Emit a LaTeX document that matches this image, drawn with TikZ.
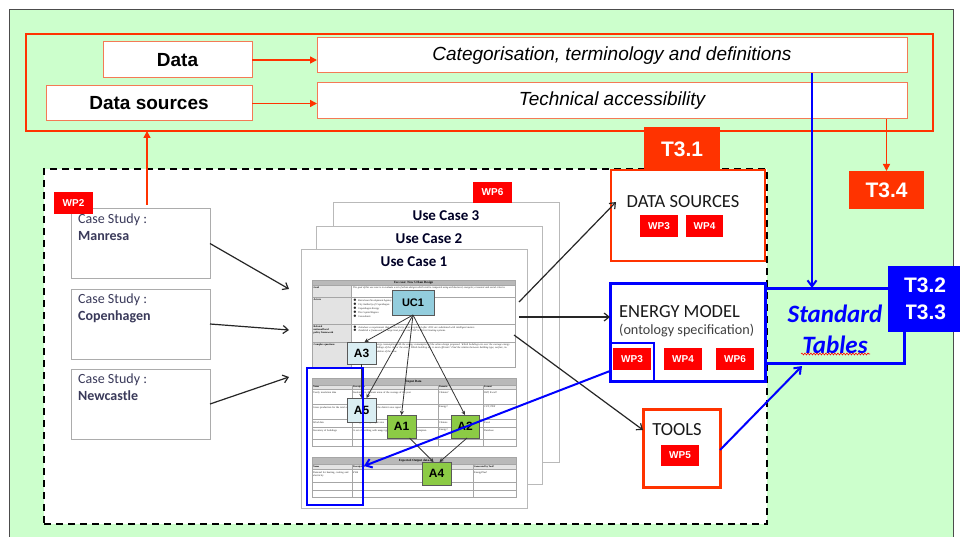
\documentclass[tikz,border=0pt]{standalone}
\usepackage{fontspec}
\setmainfont{Liberation Sans}
\newfontfamily\calfont{Carlito}
\newfontfamily\tabfont{Liberation Serif}
\usetikzlibrary{arrows.meta,decorations.pathmorphing}
\definecolor{bggreen}{HTML}{CCFFCC}
\definecolor{ored}{HTML}{FF3300}
\definecolor{wpred}{HTML}{FF0000}
\definecolor{bblue}{HTML}{0000FF}
\definecolor{lorange}{HTML}{F47A55}
\definecolor{cstext}{HTML}{3A3A5A}
\definecolor{ucblue}{HTML}{93CDDD}
\definecolor{aligh}{HTML}{DAEEF3}
\definecolor{agreen}{HTML}{8CCB45}
\newcommand\fsz[2]{\fontsize{#1}{#2}\selectfont}
\tikzset{
  sz/.style 2 args={minimum width=#1pt, minimum height=#2pt, inner sep=0pt, outer sep=0pt},
  topbox/.style={draw=lorange, line width=1pt, fill=white},
  wp/.style={fill=wpred, text=white, font=\bfseries\fsz{10}{12}},
  tbox/.style={fill=ored, text=white, font=\bfseries\fsz{21}{24}},
  csbox/.style={draw=gray!65, line width=1pt, fill=white},
  cstxt/.style={anchor=north west, align=left, inner sep=0pt, text=cstext, font=\calfont\fsz{14}{16.5}},
  page/.style={draw=gray!55, line width=1pt, fill=white},
  pagetitle/.style={font=\calfont\bfseries\fsz{15}{17}, text=black!85!blue, inner sep=0pt},
  anode/.style={draw=gray!70!black, line width=0.6pt, font=\bfseries\fsz{12}{14}},
  blackarrow/.style={-{Straight Barb[length=5pt,width=8pt]}, line width=1.2pt, black!85},
  smallarrow/.style={-{Stealth[length=4pt,width=4pt]}, line width=0.8pt, black!80},
  orangearrow/.style={-{Triangle[length=7pt,width=7pt]}, ored, line width=1.5pt},
  bluearrow/.style={-{Straight Barb[length=6pt,width=9pt]}, bblue, line width=2pt},
  tabline/.style={draw=gray!70, line width=0.5pt},
  tt/.style={font=\tabfont\fsz{2.6}{3}, inner sep=0pt, text=black!85},
  tth/.style={font=\tabfont\bfseries\fsz{3.2}{3.6}, inner sep=0pt},
  rtitle/.style={font=\calfont\fsz{18.5}{21}, inner sep=0pt, text=black!90},
}
\begin{document}
\begin{tikzpicture}[x=1pt,y=-1pt]
\useasboundingbox (0,0) rectangle (960,537);
\fill[white] (0,0) rectangle (960,537);
\draw[fill=bggreen, draw=gray!60!black, line width=1pt] (9,10) rectangle (953,545);

% ---- top block ----
\node[sz={907}{97}, draw=ored, line width=2pt] (outer) at (479.5,82.5) {};
\node[topbox, sz={149}{36}, font=\bfseries\fsz{19}{22}] (data) at (177.5,60) {Data};
\node[topbox, sz={206}{35}, font=\bfseries\fsz{19}{22}] (datasrc) at (149,103.5) {Data sources};
\node[topbox, sz={590}{35}, font=\itshape\fsz{19}{22}] (cat) at (612,55.5) {Categorisation, terminology and definitions};
\node[topbox, sz={590}{36}, font=\itshape\fsz{19}{22}] (tech) at (612,101) {Technical accessibility};
\draw[orangearrow] (data.east) -- (data.east -| cat.west);
\draw[orangearrow] (datasrc.east) -- (datasrc.east -| tech.west);

% ---- case study frame ----
\node[sz={723}{355}, draw=black, dashed, dash pattern=on 7pt off 5pt, line width=1.8pt, fill=white] (study) at (405.5,346.5) {};

\node[csbox, sz={139}{69}] (manresa) at (140.5,243.5) {};
\node[csbox, sz={139}{70}] (copen) at (140.5,324) {};
\node[csbox, sz={139}{70}] (newc) at (140.5,404) {};
\node[cstxt] (manresaT) at ([xshift=7pt,yshift=-5pt]manresa.north west) {Case Study :\\\textbf{Manresa}};
\node[cstxt] (copenT) at ([xshift=7pt,yshift=-5pt]copen.north west) {Case Study :\\\textbf{Copenhagen}};
\node[cstxt] (newcT) at ([xshift=7pt,yshift=-5pt]newc.north west) {Case Study :\\\textbf{Newcastle}};
\node[wp, sz={39}{22}] (wp2) at (73.5,203) {WP2};

\draw[orangearrow] (manresa.north -| 147,0) ++(0,-4) -- (outer.south -| 147,0);

% ---- use case pages ----
\node[page, sz={226}{259}] (uc3) at (446,332.5) {};
\node[page, sz={226}{257}] (uc2) at (429,355.5) {};
\node[page, sz={226}{259}] (uc1) at (414,378.5) {};
\node[pagetitle] (uc3t) at (446,216) {Use Case 3};
\node[pagetitle] (uc2t) at (429,239) {Use Case 2};
\node[pagetitle] (uc1t) at (414,262) {Use Case 1};
\node[wp, sz={39}{21}] (wp6) at (492.5,192.5) {WP6};

% table 1
\fill[gray!55] (312,280) rectangle (515,285);
\fill[gray!22] (312,285) rectangle (351,367);
\draw[tabline] (312,280) rectangle (515,367);
\foreach \yy in {285,297,324,342} \draw[tabline] (312,\yy) -- (515,\yy);
\draw[tabline] (351,285) -- (351,367);
\node[tth] (t1h) at (413.5,282.6) {Use case: New Urban Design};
\node[tth, anchor=north west, font=\tabfont\bfseries\fsz{2.6}{3}] (t1a) at (313.5,286.5) {Goal};
\node[tth, anchor=north west, font=\tabfont\bfseries\fsz{2.6}{3}] (t1b) at (313.5,298.5) {Actors};
\node[tth, anchor=north west, align=left, font=\tabfont\bfseries\fsz{2.6}{3}] (t1c) at (313.5,325.5) {Related\\national/local\\policy framework};
\node[tth, anchor=north west, font=\tabfont\bfseries\fsz{2.6}{3}] (t1d) at (313.5,343.5) {Complex questions};
\node[tt, anchor=north west, text width=160pt, align=justify, font=\tabfont\itshape\fsz{2.6}{3.2}] (t1e) at (353,286.5) {The goal of this use case is to evaluate a set of urban designs which can be compared using architectural, energetic, economic and social criteria.};
\node[tt, anchor=north west, align=left, font=\tabfont\itshape\fsz{2.6}{4.2}] (t1f) at (353,298.5) {$\bullet$\ \ Barcelona Development Agency\\$\bullet$\ \ City Authority of Copenhagen\\$\bullet$\ \ Copenhagen Energy\\$\bullet$\ \ The Capital Region\\$\bullet$\ \ Consultants};
\node[tt, anchor=north west, align=left, text width=158pt, font=\tabfont\itshape\fsz{2.6}{3.4}] (t1g) at (353,325.5) {$\bullet$\ \ Introduce a requirement that all electricity meters replaced after 2015 are substituted with intelligent meters.\\$\bullet$\ \ Establish a framework for large heat pumps and CHP in district heating systems.};
\node[tt, anchor=north west, align=left, text width=158pt, font=\tabfont\itshape\fsz{2.6}{3.4}] (t1i) at (353,343.5) {Compare the actual energy consumption with the energy consumption of the urban design proposed. Which buildings are over the average energy consumption of the buildings of the city or the area? Which building use is most efficient? Find the relation between building type, surface, income average and insulation of the area.};

% table 2
\fill[gray!55] (312,378) rectangle (516,385);
\fill[gray!22] (312,385) rectangle (516,389);
\draw[tabline] (312,378) rectangle (516,446);
\foreach \yy in {385,389,404,419,427,439} \draw[tabline] (312,\yy) -- (516,\yy);
\foreach \xx in {352,438,483} \draw[tabline] (\xx,385) -- (\xx,446);
\node[tth] (t2h) at (414,381.5) {Input Data};
\node[tth, anchor=west, font=\tabfont\bfseries\fsz{2.4}{3}] (t2a) at (313,387) {Name};
\node[tth, anchor=west, font=\tabfont\bfseries\fsz{2.4}{3}] (t2b) at (353,387) {Description};
\node[tth, anchor=west, font=\tabfont\bfseries\fsz{2.4}{3}] (t2c) at (439,387) {Domain};
\node[tth, anchor=west, font=\tabfont\bfseries\fsz{2.4}{3}] (t2d) at (484,387) {Format};
\node[tt, anchor=north west, text width=37pt] (t2e) at (313,391) {Yearly insolation data};
\node[tt, anchor=north west, text width=84pt] (t2f) at (353,391) {Insolation in different areas of the average of the year};
\node[tt, anchor=north west] (t2g) at (439,391) {Climate?};
\node[tt, anchor=north west] (t2i) at (484,391) {IWP, Excel?};
\node[tt, anchor=north west, text width=37pt] (t2j) at (313,406) {Gross production for the total area};
\node[tt, anchor=north west, text width=84pt] (t2k) at (353,406) {Energy production for the district area report};
\node[tt, anchor=north west] (t2l) at (439,406) {Energy?};
\node[tt, anchor=north west] (t2m) at (484,406) {CUT, PDF};
\node[tt, anchor=north west] (t2n) at (313,421.5) {Wind data};
\node[tt, anchor=north west, text width=84pt] (t2o) at (353,421.5) {Average wind speed per area};
\node[tt, anchor=north west] (t2p) at (439,421.5) {Climate};
\node[tt, anchor=north west] (t2q) at (484,421.5) {Excel};
\node[tt, anchor=north west, text width=37pt] (t2r) at (313,429) {Inventory of buildings};
\node[tt, anchor=north west, text width=84pt] (t2s) at (353,429) {A set of building with usage type, building use, energy consumption};
\node[tt, anchor=north west] (t2t) at (439,429) {Energy?};
\node[tt, anchor=north west] (t2u) at (484,429) {Database};

% table 3
\fill[gray!55] (312,457) rectangle (516,464);
\fill[gray!22] (312,464) rectangle (516,469);
\draw[tabline] (312,457) rectangle (516,497);
\foreach \yy in {464,469,482,490} \draw[tabline] (312,\yy) -- (516,\yy);
\foreach \xx in {352,473} \draw[tabline] (\xx,464) -- (\xx,497);
\node[tth] (t3h) at (414,460.5) {Expected Output data};
\node[tth, anchor=west, font=\tabfont\bfseries\fsz{2.4}{3}] (t3a) at (313,466.5) {Name};
\node[tth, anchor=west, font=\tabfont\bfseries\fsz{2.4}{3}] (t3b) at (353,466.5) {Description};
\node[tth, anchor=west, font=\tabfont\bfseries\fsz{2.4}{3}] (t3c) at (474,466.5) {Generated by Tool?};
\node[tt, anchor=north west, text width=37pt] (t3d) at (313,471) {Demand for heating, cooling and electricity};
\node[tt, anchor=north west] (t3e) at (353,471) {kWh};
\node[tt, anchor=north west] (t3f) at (474,471) {EnergyPlus?};

% activity nodes
\node[anode, sz={42}{25}, fill=ucblue, font=\bfseries\fsz{11}{13}] (UC1) at (413,302.5) {UC1};
\node[anode, sz={29}{22}, fill=aligh] (A3) at (361.5,353) {A3};
\node[anode, sz={29}{24}, fill=aligh] (A5) at (361.5,410) {A5};
\node[anode, sz={29}{23}, fill=agreen] (A1) at (401.5,426.5) {A1};
\node[anode, sz={28}{23}, fill=agreen] (A2) at (465,426.5) {A2};
\node[anode, sz={29}{23}, fill=agreen] (A4) at (436.5,473.5) {A4};
\draw[smallarrow] (UC1.south) -- ([xshift=3pt]A3.north);
\draw[smallarrow] (UC1.south) -- ([xshift=5pt]A5.north);
\draw[smallarrow] (UC1.south) -- (A1.north);
\draw[smallarrow] (UC1.south) -- (A2.north);
\draw[smallarrow] (A3.south) -- (A5.north);
\draw[smallarrow] ([xshift=8pt]A1.south) -- ([xshift=-3pt]A4.north);
\draw[smallarrow] ([xshift=2pt]A2.south) -- ([xshift=3pt]A4.north);

\node[draw=bblue, line width=2pt, sz={56}{137}] (inframe) at (335,436.5) {};

% ---- right side ----
\node[tbox, sz={76}{44}] (T31) at (682,149) {T3.1};
\node[tbox, sz={75}{38}] (T34) at (886.5,190) {T3.4};
\draw[orangearrow] (tech.south -| T34.north) -- (T34.north);

\node[sz={154}{91}, draw=ored, line width=2pt, fill=white] (dsrc) at (688,215.5) {};
\node[rtitle] (dsrcT) at (683,202) {DATA SOURCES};
\node[wp, sz={38}{22}] (wp3a) at (659,226) {WP3};
\node[wp, sz={37}{22}] (wp4a) at (704.5,226) {WP4};

\node[sz={155}{98}, draw=bblue, line width=3pt, fill=white] (energy) at (687.5,332) {};
\node[rtitle, anchor=west] (energyT) at (619,312) {ENERGY MODEL};
\node[font=\calfont\fsz{14.2}{16}, text=black!75, inner sep=0pt, anchor=west] (ontoT) at (619,330.5) {(ontology specification)};
\node[wp, sz={38}{22}] (wp3b) at (632,359) {WP3};
\node[wp, sz={38}{22}] (wp4b) at (683,359) {WP4};
\node[wp, sz={38}{22}] (wp6b) at (735,359) {WP6};
\node[draw=bblue, line width=1.5pt, sz={44}{38}] (wp3frame) at (632,362) {};

\node[sz={75}{66}, fill=bblue, text=white, align=center, font=\bfseries\fsz{21}{27}] (T32) at (925,299) {T3.2\\T3.3};
\node[sz={139}{75}, draw=bblue, line width=3pt] (std) at (834.5,325.5) {};
\node[font=\calfont\bfseries\itshape\fsz{25}{31}, text=bblue, align=center, inner sep=0pt] (stdT) at (835,329) {Standard\\Tables};
\draw[red, line width=0.6pt, decorate, decoration={snake, amplitude=0.9pt, segment length=3pt}] (801,354) -- (870,354);

\node[sz={77}{78}, draw=ored, line width=3pt, fill=white] (tools) at (681.5,448) {};
\node[rtitle] (toolsT) at (677,430) {TOOLS};
\node[wp, sz={38}{21}] (wp5) at (680,455.5) {WP5};

% ---- connectors ----
\draw[bluearrow] (cat.south -| 812,0) -- (std.north -| 812,0);

\coordinate (m1) at (289,289);
\coordinate (m2) at (289,330);
\coordinate (m3) at (289,377);
\draw[blackarrow] (manresa.east) -- (m1);
\draw[blackarrow] (copen.east) -- (m2);
\draw[blackarrow] (newc.east) -- (m3);

\coordinate (p1) at (519,302);
\coordinate (p2) at (519,317);
\coordinate (p3) at (514,335);
\coordinate (dsin) at (616,202);
\draw[blackarrow] (p1) -- (dsin);
\draw[blackarrow] (p2) -- (energy.west |- p2);
\draw[blackarrow] (p3) -- (tools.west |- 0,430);

\coordinate (tin) at (364,466);
\draw[bluearrow] ([yshift=-9pt]wp3frame.west) -- (tin);
\draw[bluearrow] (tools.east |- 0,450) -- (802,366);
\end{tikzpicture}
\end{document}
